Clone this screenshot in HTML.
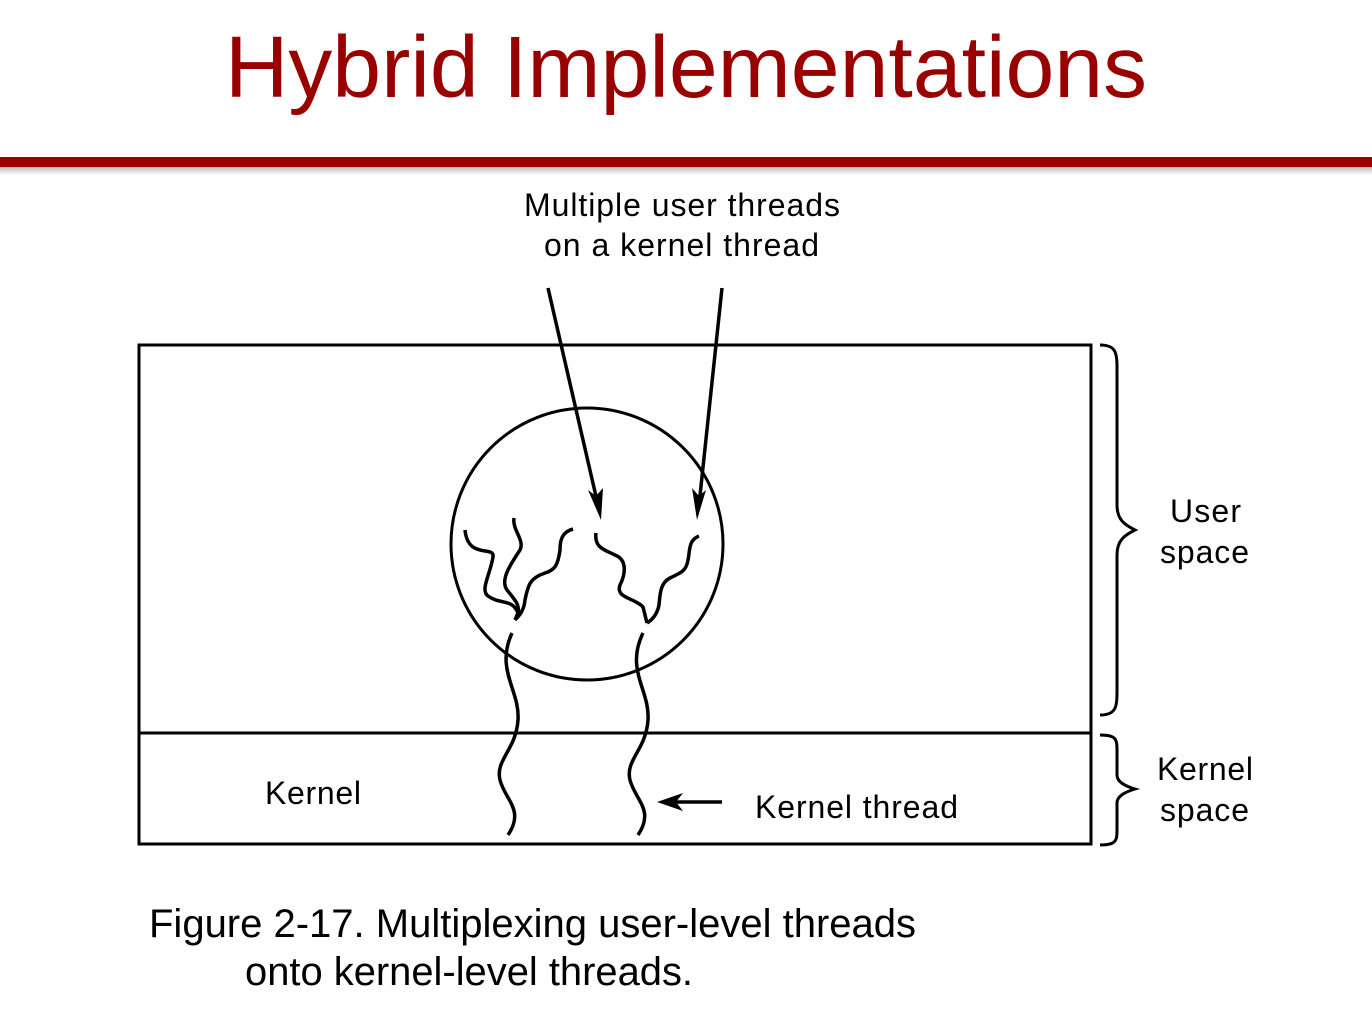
<!DOCTYPE html>
<html><head><meta charset="utf-8"><style>
html,body{margin:0;padding:0;background:#fff;width:1372px;height:1020px;overflow:hidden}
svg{display:block}
</style></head><body>
<svg width="1372" height="1020" viewBox="0 0 1372 1020" xmlns="http://www.w3.org/2000/svg" font-family="Liberation Sans, sans-serif">
<defs>
<linearGradient id="sh" x1="0" y1="0" x2="0" y2="1"><stop offset="0" stop-color="#bbb"/><stop offset="1" stop-color="#fff"/></linearGradient>
</defs>
<text x="225" y="97" font-size="87" fill="#990000" textLength="922" lengthAdjust="spacingAndGlyphs">Hybrid Implementations</text>
<rect x="0" y="167" width="1372" height="8" fill="url(#sh)"/>
<rect x="0" y="157" width="1372" height="10" fill="#990000"/>
<g fill="none" stroke="#000" stroke-width="3">
<rect x="139" y="345" width="952" height="499"/>
<line x1="139" y1="733" x2="1091" y2="733"/>
<circle cx="587" cy="544" r="136"/>
</g>
<g fill="none" stroke="#000" stroke-width="3.5">
<path d="M465,530 C468,560 495,545 493,557 C490,575 480,590 488,596 C500,605 512,598 518,613 L515,620"/>
<path d="M514,518 C512,530 525,540 520,550 C510,565 500,580 507,590 C515,600 520,605 518,613"/>
<path d="M573,529 C562,532 560,540 560,550 C558,565 555,570 545,573 C530,578 528,585 525,600 C524,610 520,615 515,620"/>
<path d="M596,533 C594,548 605,550 615,555 C628,560 625,575 620,585 C615,598 635,598 643,607 L647,623"/>
<path d="M699,536 C688,540 690,552 688,560 C686,572 680,573 670,578 C660,583 660,595 659,605 C657,615 652,620 647,623"/>
<path d="M512,633 C495,670 520,690 518,720 C516,750 495,760 500,780 C505,800 525,810 508,835"/>
<path d="M643,633 C625,670 650,690 648,720 C646,750 625,760 630,780 C635,800 655,810 638,835"/>
<line x1="548" y1="288" x2="598" y2="505"/>
<line x1="722" y1="288" x2="699" y2="505"/>
<line x1="722" y1="802" x2="670" y2="802"/>
<path d="M1100,345 C1118,345 1117,355 1117,375 L1117,505 C1117,520 1125,525 1135,530 C1125,535 1117,540 1117,555 L1117,685 C1117,705 1118,715 1100,715" stroke-width="3"/>
<path d="M1100,735 C1118,735 1117,740 1117,755 L1117,775 C1117,782 1125,786 1135,789 C1125,792 1117,796 1117,803 L1117,825 C1117,840 1118,845 1100,845" stroke-width="3"/>
</g>
<g fill="#000">
<polygon points="601,520 588,490 596,496 603,488"/>
<polygon points="697,520 692,488 699,496 706,490"/>
<polygon points="657,802 683,793 676,802 683,811"/>
</g>
<g font-size="32" fill="#000" lengthAdjust="spacingAndGlyphs">
<text x="524" y="216" textLength="316">Multiple user threads</text>
<text x="544" y="256" textLength="275">on a kernel thread</text>
<text x="1170" y="522" textLength="71">User</text>
<text x="1160" y="563" textLength="89">space</text>
<text x="1157" y="780" textLength="96">Kernel</text>
<text x="1160" y="821" textLength="89">space</text>
<text x="265" y="804" textLength="96">Kernel</text>
<text x="755" y="818" textLength="203">Kernel thread</text>
</g>
<g font-size="40" fill="#000">
<text x="149" y="937" textLength="767" lengthAdjust="spacingAndGlyphs">Figure 2-17. Multiplexing user-level threads</text>
<text x="245" y="985" textLength="448" lengthAdjust="spacingAndGlyphs">onto kernel-level threads.</text>
</g>
</svg>
</body></html>
